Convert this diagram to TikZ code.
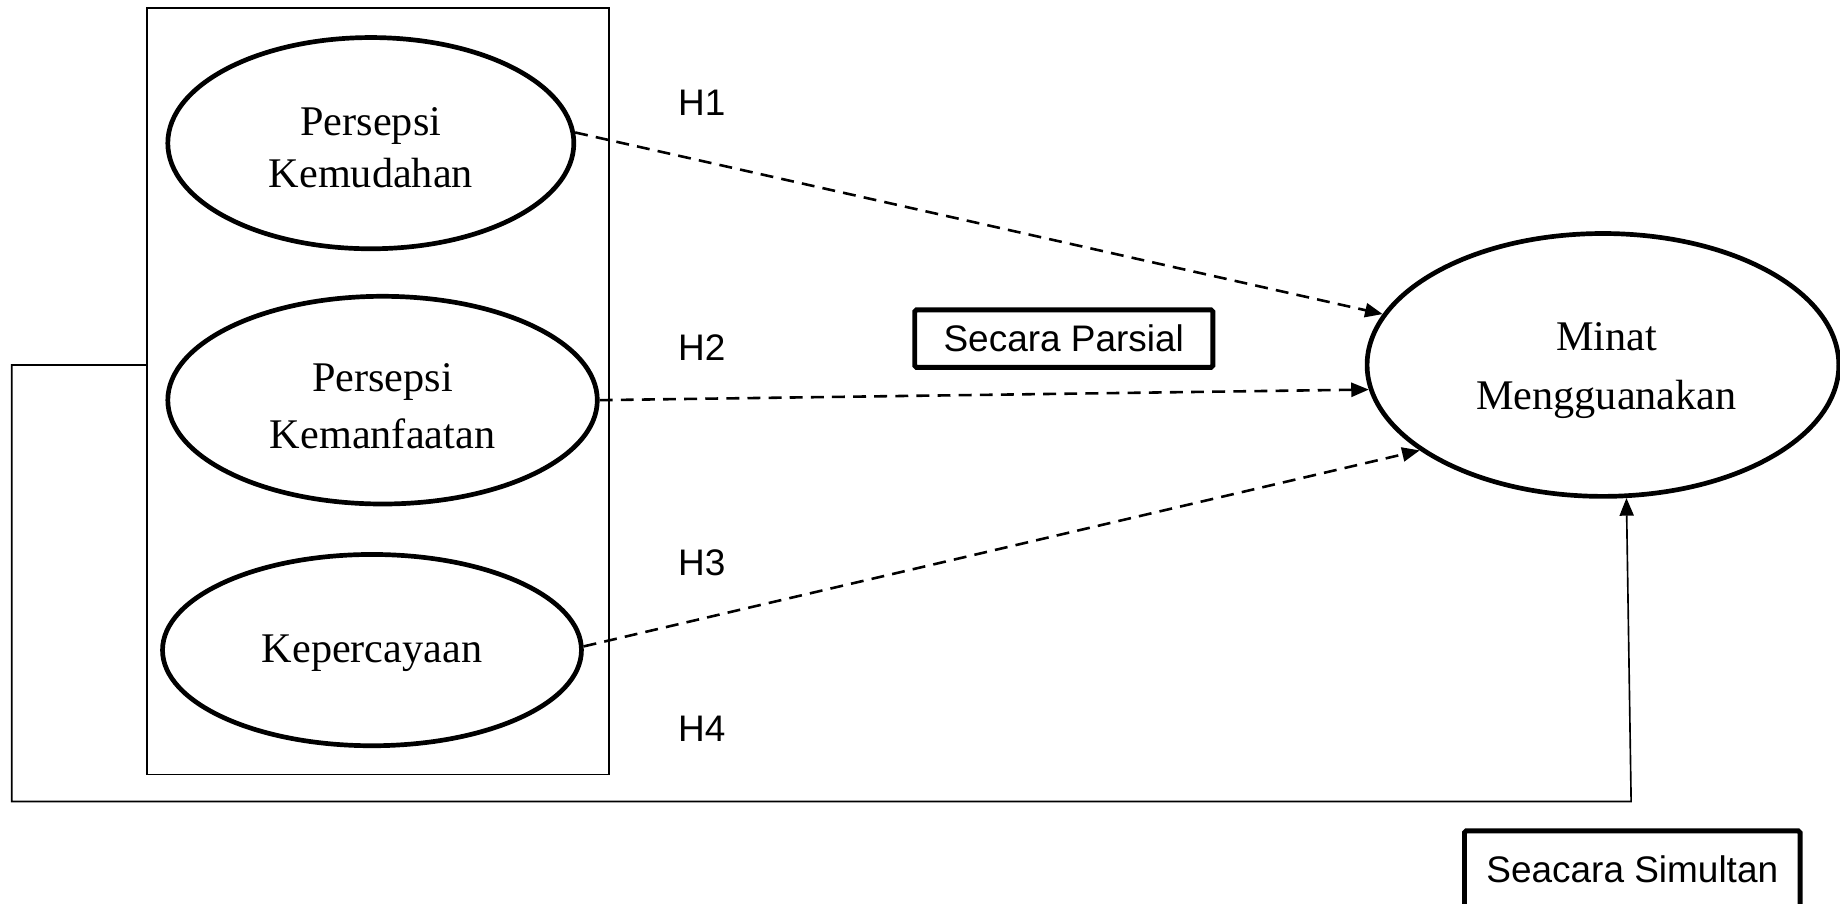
\documentclass[tikz,border=0pt]{standalone}
\usepackage{fontspec}
\setmainfont{Liberation Serif}
\setsansfont{Liberation Sans}
\usetikzlibrary{shapes.geometric,arrows.meta}

\tikzset{
  construct/.style={ellipse, draw, line width=4pt, inner sep=0pt},
  ctext/.style={align=center, inner sep=0pt, font=\fontsize{36}{#1}\selectfont},
  ctext/.default=46,
  hyp/.style={font=\sffamily\fontsize{31.5}{36}\selectfont, inner sep=0pt},
  tagbox/.style={draw, line width=4.2pt, inner sep=0pt, rounded corners=1.5pt,
    font=\sffamily\fontsize{31.5}{36}\selectfont},
  partial/.style={line width=2.2pt, dash pattern=on 11pt off 7pt,
    -{Triangle[length=15pt,width=12pt]}},
  thinline/.style={line width=1.4pt},
}

\begin{document}
\begin{tikzpicture}[x=1pt,y=-1pt]
  \clip (0,0) rectangle (1568,770);

  % group of independent variables
  \node[draw, thinline, minimum width=394pt, minimum height=653pt, inner sep=0pt]
    (grp) at (322,333.5) {};

  % constructs
  \node[construct, minimum width=346pt, minimum height=180pt] (e1) at (316,122) {};
  \node[ctext=44] (t1) at (316,126) {Persepsi\\Kemudahan};
  \node[construct, minimum width=366pt, minimum height=177pt] (e2) at (326,341) {};
  \node[ctext=49] (t2) at (326,346) {Persepsi\\Kemanfaatan};
  \node[construct, minimum width=357pt, minimum height=163pt] (e3) at (317,554) {};
  \node[ctext] (t3) at (317,557) {Kepercayaan};
  \node[construct, minimum width=402pt, minimum height=224pt] (m) at (1366,311) {};
  \node[ctext=50] (tm) at (1369,316) {Minat\\Mengguanakan};

  % hypothesis labels
  \node[hyp] (h1) at (598,88) {H1};
  \node[hyp] (h2) at (598,296) {H2};
  \node[hyp] (h3) at (598,480) {H3};
  \node[hyp] (h4) at (598,621) {H4};

  % test boxes
  \node[tagbox, minimum width=254pt, minimum height=49pt] (par) at (906.5,288.5)
    {Secara Parsial};
  \node[tagbox, minimum width=286pt, minimum height=90pt, anchor=north] (sim)
    at (1391,706) {};
  \node[font=\sffamily\fontsize{31.5}{36}\selectfont] (simtxt) at (1391,741)
    {Seacara Simultan};

  % partial effects
  \draw[partial] (e1.3) -- (m.167);
  \draw[partial] (e2.east) -- (m.186);
  \draw[partial] (e3.1) -- (m.205);

  % simultaneous effect
  \coordinate (jl) at (grp.west |- 0,311);
  \draw[thinline, -{Triangle[length=15pt,width=12pt]}]
    (jl) -- (10,311) -- (10,683) -- (1390,683) -- (m.280);
\end{tikzpicture}
\end{document}
